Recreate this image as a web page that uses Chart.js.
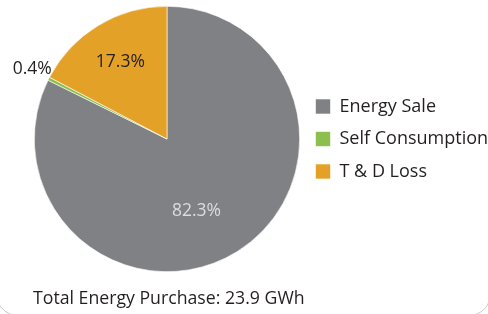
<!DOCTYPE html>
<html>
<head>
<meta charset="utf-8">
<script src="https://cdn.jsdelivr.net/npm/chart.js@4"></script>
<style>
html, body { margin: 0; padding: 0; background: #fff; overflow: hidden; }
#wrap { position: relative; width: 488px; height: 314px; }
#frame { position: absolute; left: -4px; right: -3px; top: -40px; bottom: -2px; border: 1px solid #c9c9c9; border-radius: 22px; }
canvas { position: absolute; left: 0; top: 0; }
</style>
</head>
<body>
<div id="wrap">
    <div id="frame"></div>
    <canvas id="pie" width="488" height="314"></canvas>
</div>
<script>
'use strict';

const categories = ['Energy Sale', 'Self Consumption', 'T & D Loss'];
const shares = [82.3, 0.4, 17.3];
const sliceColors = ['#808184', '#8dbf4e', '#e4a127'];
const totalLabel = 'Total Energy Purchase: 23.9 GWh';

const textFont = 'Open Sans';
const textColor = '#231f20';

// percent labels drawn on / beside each slice
const sliceLabels = {
    id: 'sliceLabels',
    afterDatasetsDraw(chart) {
        const ctx = chart.ctx;
        const meta = chart.getDatasetMeta(0);
        ctx.save();
        ctx.font = `17.5px ${textFont}`;
        meta.data.forEach((arc, i) => {
            const p = arc.getProps(['x', 'y', 'startAngle', 'endAngle', 'outerRadius'], true);
            const mid = (p.startAngle + p.endAngle) / 2;
            const text = shares[i].toFixed(1) + '%';

            if (shares[i] < 2) {
                // tiny slice: label sits outside the rim
                const ex = p.x + Math.cos(mid) * p.outerRadius;
                const ey = p.y + Math.sin(mid) * p.outerRadius;
                ctx.textAlign = 'right';
                ctx.textBaseline = 'middle';
                ctx.fillStyle = textColor;
                ctx.fillText(text, ex + 3, ey - 10);
            }
            else {
                const big = shares[i] > 50;
                const a = big ? mid + 0.17 : mid;
                const r = p.outerRadius * (big ? 0.59 : 0.68);
                ctx.textAlign = 'center';
                ctx.textBaseline = 'middle';
                ctx.fillStyle = big ? '#dcdcde' : textColor;
                ctx.fillText(text, p.x + Math.cos(a) * r, p.y + Math.sin(a) * r);
            }
        });
        ctx.restore();
    }
};

new Chart(document.getElementById('pie'), {
    type: 'pie',
    data: {
        labels: categories,
        datasets: [{
            data: shares,
            backgroundColor: sliceColors,
            borderColor: '#ffffff',
            borderWidth: 0.6
        }]
    },
    options: {
        responsive: false,
        animation: false,
        layout: {
            padding: { left: 33, top: 6, right: 0, bottom: 0 }
        },
        plugins: {
            legend: {
                position: 'right',
                fullSize: false,
                maxWidth: 187,
                labels: {
                    boxWidth: 15,
                    boxHeight: 15,
                    padding: 14.5,
                    color: textColor,
                    font: { family: textFont, size: 18 }
                }
            },
            title: {
                display: true,
                text: totalLabel,
                position: 'bottom',
                align: 'start',
                color: textColor,
                font: { family: textFont, size: 17.7, weight: 'normal' },
                padding: { top: 16.4, bottom: 4.4 }
            },
            tooltip: { enabled: false }
        }
    },
    plugins: [sliceLabels]
});
</script>
</body>
</html>
